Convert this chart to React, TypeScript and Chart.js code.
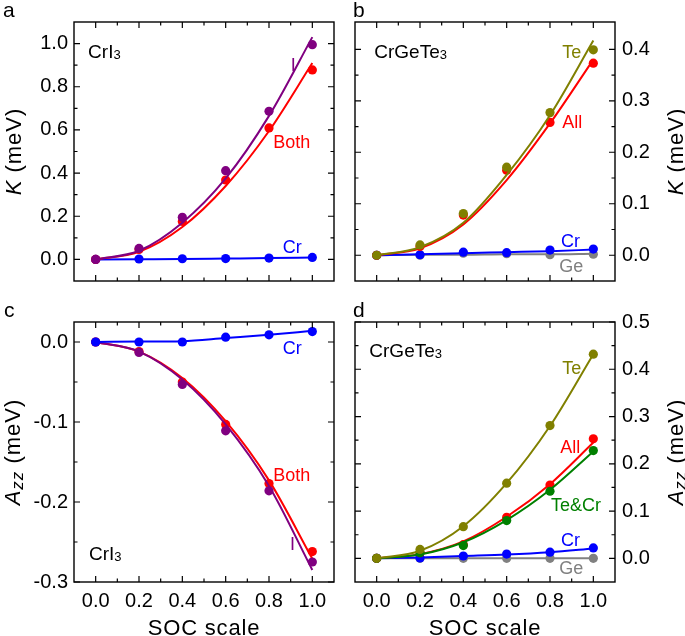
import React, { useEffect, useRef } from 'react';
import { Chart, registerables } from 'chart.js';

Chart.register(...registerables);

const FONT = "'Liberation Sans', Arial, Helvetica, sans-serif";

// ---- shared ----
const SOC = [0, 0.2, 0.4, 0.6, 0.8, 1.0];
const X_TICKS = [0, 0.2, 0.4, 0.6, 0.8, 1.0];

// ---- panel a (CrI3, K) ----
const A_Y_TICKS = [0, 0.2, 0.4, 0.6, 0.8, 1.0];
const A_I = [0, 0.051, 0.195, 0.411, 0.686, 0.995];
const A_BOTH = [0, 0.046, 0.176, 0.368, 0.609, 0.878];
const A_CR = [0, 0.002, 0.003, 0.004, 0.006, 0.009];
const A_I_FIT = [0, 0.04, 0.17, 0.375, 0.665, 1.03];
const A_BOTH_FIT = [0, 0.035, 0.15, 0.34, 0.595, 0.91];
const A_CR_FIT = [0, 0.001, 0.002, 0.004, 0.006, 0.009];

// ---- panel b (CrGeTe3, K) ----
const B_Y_TICKS = [0, 0.1, 0.2, 0.3, 0.4];
const B_TE = [0, 0.02, 0.081, 0.171, 0.277, 0.399];
const B_ALL = [0, 0.017, 0.078, 0.165, 0.258, 0.373];
const B_CR = [0, 0.001, 0.006, 0.005, 0.01, 0.012];
const B_GE = [0, 0, 0.004, 0.003, 0.001, 0.002];
const B_TE_FIT = [0, 0.0155, 0.063, 0.156, 0.272, 0.417];
const B_ALL_FIT = [0, 0.0136, 0.06, 0.146, 0.256, 0.38];
const B_CR_FIT = [0, 0.002, 0.004, 0.006, 0.008, 0.011];
const B_GE_FIT = [0, 0.001, 0.001, 0.002, 0.002, 0.003];

// ---- panel c (CrI3, Azz) ----
const C_Y_TICKS = [0, -0.1, -0.2, -0.3];
const C_CR = [0, 0, 0, 0.006, 0.009, 0.013];
const C_I = [0, -0.013, -0.053, -0.111, -0.186, -0.275];
const C_BOTH = [0, -0.012, -0.05, -0.103, -0.177, -0.262];
const C_CR_FIT = [0, 0.0005, 0.001, 0.005, 0.009, 0.014];
const C_I_FIT = [0, -0.012, -0.047, -0.103, -0.18, -0.285];
const C_BOTH_FIT = [0, -0.012, -0.045, -0.099, -0.173, -0.271];

// ---- panel d (CrGeTe3, Azz) ----
const D_Y_TICKS = [0, 0.1, 0.2, 0.3, 0.4, 0.5];
const D_TE = [0, 0.019, 0.067, 0.159, 0.281, 0.432];
const D_ALL = [0, 0.012, 0.029, 0.087, 0.155, 0.253];
const D_TECR = [0, 0.012, 0.027, 0.08, 0.142, 0.228];
const D_CR = [0, 0.001, 0.005, 0.009, 0.013, 0.022];
const D_GE = [0, 0, 0, 0, 0, 0];
const D_TE_FIT = [0, 0.016, 0.068, 0.159, 0.28, 0.432];
const D_ALL_FIT = [0, 0.009, 0.036, 0.088, 0.157, 0.245];
const D_TECR_FIT = [0, 0.008, 0.034, 0.081, 0.145, 0.226];
const D_CR_FIT = [0, 0.002, 0.005, 0.008, 0.013, 0.021];
const D_GE_FIT = [0, 0, 0, 0, 0, 0];

const PURPLE = '#800080';
const RED = '#FF0000';
const BLUE = '#0000FF';
const OLIVE = '#808000';
const GRAY = '#808080';
const GREEN = '#008000';

type Part = { t: string; italic?: boolean; size?: number; dy?: number };
type Series = { pts: number[]; fit: number[]; color: string };
type Label = { parts: Part[]; x: number; y: number; color: string; size: number };

type PanelCfg = {
  id: string;
  left: number; top: number; w: number; h: number;
  pad: { left: number; right: number; top: number; bottom: number };
  yPos: 'left' | 'right';
  yWidth: number;
  xShow: boolean;
  xHeight: number;
  yMin: number; yMax: number;
  yTicks: number[];
  series: Series[]; // bottom-most first
  labels: Label[];
  yTitle: Part[];
  yTitleX: number;
  letter: string; letterX: number; letterY: number;
};

const K_TITLE: Part[] = [{ t: 'K', italic: true }, { t: ' (meV)' }];
const AZZ_TITLE: Part[] = [{ t: 'A', italic: true }, { t: 'zz', italic: true, size: 17, dy: 3 }, { t: ' (meV)' }];

const PANELS: PanelCfg[] = [
  {
    id: 'a', left: 0, top: 0, w: 345, h: 300,
    pad: { left: 0, right: 11, top: 22, bottom: 19 },
    yPos: 'left', yWidth: 74, xShow: false, xHeight: 0,
    yMin: -0.1, yMax: 1.1, yTicks: A_Y_TICKS,
    series: [
      { pts: A_CR, fit: A_CR_FIT, color: BLUE },
      { pts: A_BOTH, fit: A_BOTH_FIT, color: RED },
      { pts: A_I, fit: A_I_FIT, color: PURPLE },
    ],
    labels: [
      { parts: [{ t: 'CrI' }, { t: '3', size: 13, dy: 1 }], x: -0.035, y: 0.934, color: '#000', size: 19 },
      { parts: [{ t: 'I' }], x: 0.9, y: 0.875, color: PURPLE, size: 18 },
      { parts: [{ t: 'Both' }], x: 0.82, y: 0.515, color: RED, size: 18 },
      { parts: [{ t: 'Cr' }], x: 0.863, y: 0.028, color: BLUE, size: 18 },
    ],
    yTitle: K_TITLE, yTitleX: 20.5,
    letter: 'a', letterX: 3, letterY: 17,
  },
  {
    id: 'b', left: 345, top: 0, w: 340, h: 300,
    pad: { left: 10, right: 0, top: 22, bottom: 19 },
    yPos: 'right', yWidth: 70, xShow: false, xHeight: 0,
    yMin: -0.05, yMax: 0.453, yTicks: B_Y_TICKS,
    series: [
      { pts: B_GE, fit: B_GE_FIT, color: GRAY },
      { pts: B_CR, fit: B_CR_FIT, color: BLUE },
      { pts: B_ALL, fit: B_ALL_FIT, color: RED },
      { pts: B_TE, fit: B_TE_FIT, color: OLIVE },
    ],
    labels: [
      { parts: [{ t: 'CrGeTe' }, { t: '3', size: 13, dy: 1 }], x: -0.011, y: 0.3825, color: '#000', size: 19 },
      { parts: [{ t: 'Te' }], x: 0.856, y: 0.384, color: OLIVE, size: 18 },
      { parts: [{ t: 'All' }], x: 0.856, y: 0.248, color: RED, size: 18 },
      { parts: [{ t: 'Cr' }], x: 0.851, y: 0.0155, color: BLUE, size: 18 },
      { parts: [{ t: 'Ge' }], x: 0.843, y: -0.032, color: GRAY, size: 18 },
    ],
    yTitle: K_TITLE, yTitleX: 338,
    letter: 'b', letterX: 8, letterY: 17,
  },
  {
    id: 'c', left: 0, top: 300, w: 345, h: 336,
    pad: { left: 0, right: 11, top: 22, bottom: 0 },
    yPos: 'left', yWidth: 74, xShow: true, xHeight: 54,
    yMin: -0.3, yMax: 0.025, yTicks: C_Y_TICKS,
    series: [
      { pts: C_BOTH, fit: C_BOTH_FIT, color: RED },
      { pts: C_I, fit: C_I_FIT, color: PURPLE },
      { pts: C_CR, fit: C_CR_FIT, color: BLUE },
    ],
    labels: [
      { parts: [{ t: 'Cr' }], x: 0.863, y: -0.0145, color: BLUE, size: 18 },
      { parts: [{ t: 'Both' }], x: 0.82, y: -0.174, color: RED, size: 18 },
      { parts: [{ t: 'I' }], x: 0.897, y: -0.2595, color: PURPLE, size: 18 },
      { parts: [{ t: 'CrI' }, { t: '3', size: 13, dy: 1 }], x: -0.031, y: -0.272, color: '#000', size: 19 },
    ],
    yTitle: AZZ_TITLE, yTitleX: 20,
    letter: 'c', letterX: 4, letterY: 17,
  },
  {
    id: 'd', left: 345, top: 300, w: 340, h: 336,
    pad: { left: 10, right: 0, top: 22, bottom: 0 },
    yPos: 'right', yWidth: 70, xShow: true, xHeight: 54,
    yMin: -0.05, yMax: 0.5, yTicks: D_Y_TICKS,
    series: [
      { pts: D_GE, fit: D_GE_FIT, color: GRAY },
      { pts: D_CR, fit: D_CR_FIT, color: BLUE },
      { pts: D_ALL, fit: D_ALL_FIT, color: RED },
      { pts: D_TECR, fit: D_TECR_FIT, color: GREEN },
      { pts: D_TE, fit: D_TE_FIT, color: OLIVE },
    ],
    labels: [
      { parts: [{ t: 'CrGeTe' }, { t: '3', size: 13, dy: 1 }], x: -0.034, y: 0.427, color: '#000', size: 19 },
      { parts: [{ t: 'Te' }], x: 0.856, y: 0.389, color: OLIVE, size: 18 },
      { parts: [{ t: 'All' }], x: 0.847, y: 0.223, color: RED, size: 18 },
      { parts: [{ t: 'Te&Cr' }], x: 0.805, y: 0.101, color: GREEN, size: 18 },
      { parts: [{ t: 'Cr' }], x: 0.851, y: 0.027, color: BLUE, size: 18 },
      { parts: [{ t: 'Ge' }], x: 0.843, y: -0.033, color: GRAY, size: 18 },
    ],
    yTitle: AZZ_TITLE, yTitleX: 338,
    letter: 'd', letterX: 8, letterY: 17,
  },
];

function drawParts(
  ctx: CanvasRenderingContext2D,
  parts: Part[],
  x: number,
  y: number,
  baseSize: number,
  align: 'left' | 'center',
  color: string,
) {
  const fontOf = (p: Part) => `${p.italic ? 'italic ' : ''}${p.size ?? baseSize}px ${FONT}`;
  const widths = parts.map((p) => {
    ctx.font = fontOf(p);
    return ctx.measureText(p.t).width;
  });
  const total = widths.reduce((s, w) => s + w, 0);
  let cx = align === 'center' ? x - total / 2 : x;
  ctx.fillStyle = color;
  ctx.textAlign = 'left';
  ctx.textBaseline = 'alphabetic';
  parts.forEach((p, i) => {
    ctx.font = fontOf(p);
    ctx.fillText(p.t, cx, y + (p.dy ?? 0));
    cx += widths[i];
  });
}

function minorsOf(majors: number[], min: number, max: number): number[] {
  const sorted = [...majors].sort((a, b) => a - b);
  const out: number[] = [];
  for (let i = 0; i < sorted.length - 1; i++) out.push((sorted[i] + sorted[i + 1]) / 2);
  if (sorted.length > 1) {
    const step = sorted[1] - sorted[0];
    const lo = sorted[0] - step / 2;
    const hi = sorted[sorted.length - 1] + step / 2;
    const eps = step * 0.15;
    if (lo > min + eps) out.push(lo);
    if (hi < max - eps) out.push(hi);
  }
  return out;
}

function makePlugin(cfg: PanelCfg) {
  return {
    id: 'decor_' + cfg.id,
    afterDraw(chart: any) {
      const ctx: CanvasRenderingContext2D = chart.ctx;
      const { left, right, top, bottom } = chart.chartArea;
      const xs = chart.scales.x;
      const ys = chart.scales.y;
      ctx.save();
      // frame
      ctx.strokeStyle = '#000';
      ctx.lineWidth = 1.4;
      ctx.strokeRect(left, top, right - left, bottom - top);
      // inward ticks on all sides
      const MAJ = 6;
      const MIN = 3.5;
      ctx.lineWidth = 1.2;
      ctx.beginPath();
      const xMin = minorsOf(X_TICKS, xs.min, xs.max);
      const yMinor = minorsOf(cfg.yTicks, ys.min, ys.max);
      const addX = (v: number, len: number) => {
        const p = xs.getPixelForValue(v);
        ctx.moveTo(p, bottom);
        ctx.lineTo(p, bottom - len);
        ctx.moveTo(p, top);
        ctx.lineTo(p, top + len);
      };
      const addY = (v: number, len: number) => {
        const p = ys.getPixelForValue(v);
        ctx.moveTo(left, p);
        ctx.lineTo(left + len, p);
        ctx.moveTo(right, p);
        ctx.lineTo(right - len, p);
      };
      X_TICKS.forEach((v) => addX(v, MAJ));
      xMin.forEach((v) => addX(v, MIN));
      cfg.yTicks.forEach((v) => addY(v, MAJ));
      yMinor.forEach((v) => addY(v, MIN));
      ctx.stroke();

      // in-plot labels
      cfg.labels.forEach((l) => {
        drawParts(ctx, l.parts, xs.getPixelForValue(l.x), ys.getPixelForValue(l.y), l.size, 'left', l.color);
      });

      // y title (rotated)
      ctx.save();
      ctx.translate(cfg.yTitleX, (top + bottom) / 2);
      ctx.rotate(-Math.PI / 2);
      (ctx as any).letterSpacing = '1px';
      drawParts(ctx, cfg.yTitle, 0, 0, 22, 'center', '#000');
      (ctx as any).letterSpacing = '0px';
      ctx.restore();

      // x title
      if (cfg.xShow) {
        (ctx as any).letterSpacing = '0.8px';
        drawParts(ctx, [{ t: 'SOC scale' }], (left + right) / 2, cfg.h - 1, 22, 'center', '#000');
        (ctx as any).letterSpacing = '0px';
      }

      // panel letter
      drawParts(ctx, [{ t: cfg.letter }], cfg.letterX, cfg.letterY, 21, 'left', '#000');
      ctx.restore();
    },
  };
}

function Panel({ cfg }: { cfg: PanelCfg }) {
  const ref = useRef<HTMLCanvasElement>(null);
  useEffect(() => {
    const datasets: any[] = [];
    // Chart.js draws dataset 0 on top: push top-most series first
    const ordered = [...cfg.series].reverse();
    ordered.forEach((s) => {
      datasets.push({
        data: SOC.map((x, i) => ({ x, y: s.pts[i] })),
        showLine: false,
        pointRadius: 4.6,
        pointBackgroundColor: s.color,
        pointBorderColor: s.color,
        pointBorderWidth: 0,
        borderColor: s.color,
        backgroundColor: s.color,
      });
      datasets.push({
        data: SOC.map((x, i) => ({ x, y: s.fit[i] })),
        borderColor: s.color,
        borderWidth: 2,
        pointRadius: 0,
        fill: false,
        cubicInterpolationMode: 'monotone',
      });
    });
    const tickFont = { family: FONT, size: 20 };
    const chart = new Chart(ref.current!, {
      type: 'line',
      data: { datasets },
      options: {
        responsive: false,
        animation: false,
        events: [],
        layout: { padding: cfg.pad },
        plugins: { legend: { display: false }, tooltip: { enabled: false } },
        scales: {
          x: {
            type: 'linear',
            min: -0.1,
            max: 1.1,
            display: cfg.xShow,
            position: 'bottom',
            grid: { display: false, drawTicks: false },
            border: { display: false },
            ticks: {
              font: tickFont,
              color: '#000',
              padding: 7,
              autoSkip: false,
              maxRotation: 0,
              callback: (v: any) => Number(v).toFixed(1),
            },
            afterBuildTicks: (s: any) => {
              s.ticks = X_TICKS.map((value) => ({ value }));
            },
            afterFit: cfg.xShow
              ? (s: any) => {
                  s.height = cfg.xHeight;
                }
              : undefined,
          },
          y: {
            type: 'linear',
            min: cfg.yMin,
            max: cfg.yMax,
            position: cfg.yPos,
            grid: { display: false, drawTicks: false },
            border: { display: false },
            ticks: {
              font: tickFont,
              color: '#000',
              padding: cfg.yPos === 'left' ? 6 : 7,
              autoSkip: false,
              callback: (v: any) => Number(v).toFixed(1),
            },
            afterBuildTicks: (s: any) => {
              s.ticks = cfg.yTicks.map((value) => ({ value }));
            },
            afterFit: (s: any) => {
              s.width = cfg.yWidth;
            },
          },
        },
      } as any,
      plugins: [makePlugin(cfg)],
    });
    return () => chart.destroy();
  }, [cfg]);
  return (
    <canvas
      ref={ref}
      width={cfg.w}
      height={cfg.h}
      style={{ position: 'absolute', left: cfg.left, top: cfg.top, width: cfg.w, height: cfg.h }}
    />
  );
}

export default function App() {
  return (
    <div style={{ position: 'fixed', left: 0, top: 0, width: 685, height: 636, background: '#fff', overflow: 'hidden' }}>
      {PANELS.map((p) => (
        <Panel key={p.id} cfg={p} />
      ))}
    </div>
  );
}
